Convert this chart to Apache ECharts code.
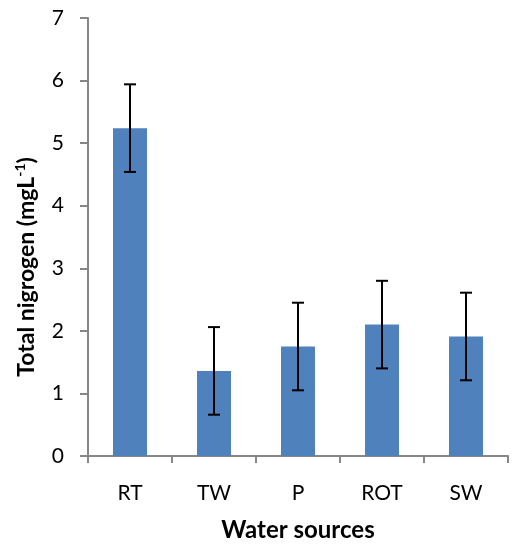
<!DOCTYPE html>
<html><head><meta charset="utf-8">
<script src="https://cdn.jsdelivr.net/npm/echarts@6/dist/echarts.min.js"></script>
<style>html,body{margin:0;padding:0;background:#fff}#c{width:512px;height:545px}</style>
</head><body><div id="c"></div>
<script>
var categories = ['RT', 'TW', 'P', 'ROT', 'SW'];
var means = [5.24, 1.36, 1.75, 2.10, 1.91];
var errors = [0.70, 0.70, 0.70, 0.70, 0.70];
var yTicks = [0, 1, 2, 3, 4, 5, 6, 7];

var FONT = 'Lato';
var chart = echarts.init(document.getElementById('c'));
var errData = categories.map(function (c, i) { return [i, means[i] - errors[i], means[i] + errors[i]]; });
chart.setOption({
  animation: false,
  grid: { left: 88, right: 4, top: 18, bottom: 89, outerBoundsMode: 'none', containLabel: false },
  xAxis: {
    type: 'category', data: categories,
    name: 'Water sources', nameLocation: 'middle', nameGap: 62,
    nameTextStyle: { fontFamily: FONT, fontSize: 24, fontWeight: 'bold', color: '#000' },
    axisLine: { lineStyle: { color: '#868686', width: 2 } },
    axisTick: { show: true, length: 7, lineStyle: { color: '#868686', width: 2 } },
    axisLabel: { fontFamily: FONT, fontSize: 21, color: '#000', margin: 27 }
  },
  yAxis: {
    type: 'value', min: yTicks[0], max: yTicks[yTicks.length - 1], interval: 1,
    name: '{a|Total nigrogen (mgL}{b|-1}{a|)}', nameLocation: 'middle', nameGap: 48,
    nameTextStyle: {
      padding: [0, 60, 0, 0],
      rich: {
        a: { fontFamily: FONT, fontSize: 23, fontWeight: 'bold', color: '#000', lineHeight: 27 },
        b: { fontFamily: FONT, fontSize: 14, fontWeight: 'bold', color: '#000', verticalAlign: 'top', lineHeight: 15 }
      }
    },
    splitLine: { show: false },
    axisLine: { show: true, lineStyle: { color: '#868686', width: 2 } },
    axisTick: { show: true, length: 8, lineStyle: { color: '#868686', width: 2 } },
    axisLabel: { fontFamily: FONT, fontSize: 21, color: '#000', margin: 24 }
  },
  series: [
    { type: 'bar', data: means, barWidth: 34, itemStyle: { color: '#4F81BD' } },
    {
      type: 'custom', data: errData, z: 10,
      renderItem: function (params, api) {
        var x = api.value(0);
        var lo = api.coord([x, api.value(1)]);
        var hi = api.coord([x, api.value(2)]);
        var hw = 6;
        var st = { stroke: '#000', lineWidth: 2 };
        return { type: 'group', children: [
          { type: 'line', shape: { x1: hi[0], y1: hi[1], x2: lo[0], y2: lo[1] }, style: st },
          { type: 'line', shape: { x1: hi[0] - hw, y1: hi[1], x2: hi[0] + hw, y2: hi[1] }, style: st },
          { type: 'line', shape: { x1: lo[0] - hw, y1: lo[1], x2: lo[0] + hw, y2: lo[1] }, style: st }
        ] };
      }
    }
  ]
});
</script></body></html>
